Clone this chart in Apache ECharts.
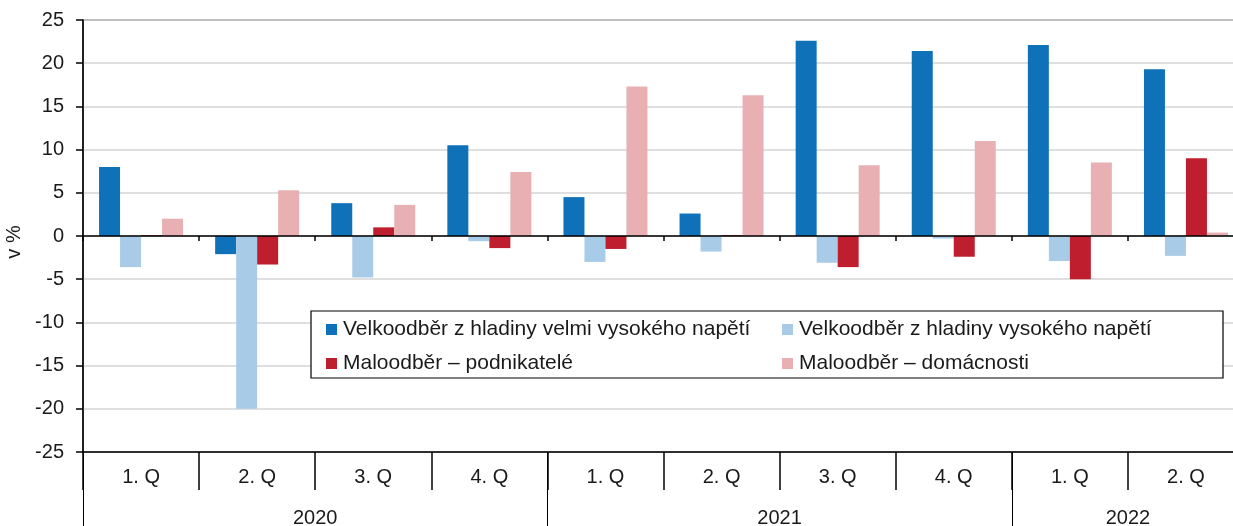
<!DOCTYPE html>
<html>
<head>
<meta charset="utf-8">
<script src="https://cdn.jsdelivr.net/npm/echarts@6/dist/echarts.min.js"></script>
<style>
  html, body { margin: 0; padding: 0; background: #fff; }
  #chart { width: 1233px; height: 526px; }
</style>
</head>
<body>
<div id="chart"></div>
<script>
// data
const quarters = ['1. Q', '2. Q', '3. Q', '4. Q', '1. Q', '2. Q', '3. Q', '4. Q', '1. Q', '2. Q']
const years = ['2020', '2021', '2022']
const quartersPerYear = [4, 4, 2]

const velmiVysoke = [8.0, -2.1, 3.8, 10.5, 4.5, 2.6, 22.6, 21.4, 22.1, 19.3]
const vysoke = [-3.6, -20.0, -4.8, -0.6, -3.0, -1.8, -3.1, -0.3, -2.9, -2.3]
const podnikatele = [0.1, -3.3, 1.0, -1.4, -1.5, 0.1, -3.6, -2.4, -5.0, 9.0]
const domacnosti = [2.0, 5.3, 3.6, 7.4, 17.3, 16.3, 8.2, 11.0, 8.5, 0.4]

const seriesNames = [
  'Velkoodběr z hladiny velmi vysokého napětí',
  'Velkoodběr z hladiny vysokého napětí',
  'Maloodběr – podnikatelé',
  'Maloodběr – domácnosti'
]
const colors = ['#0f71b8', '#a8cce7', '#be1e2d', '#e8b0b3']

// year axis: half-quarter slots so the year label sits in the middle of its group
const yearSlots = []
const yearBounds = [0]
let pos = 0
years.forEach((y, i) => {
  const n = quartersPerYear[i] * 2
  for (let k = 0; k < n; k++) {
    yearSlots.push(k === n / 2 ? y : '')
  }
  pos += n
  yearBounds.push(pos)
})
yearSlots.push('')

const font = 'Liberation Sans, Arial, sans-serif'
const textColor = '#1a1a1a'

const chart = echarts.init(document.getElementById('chart'))

const makeBar = (name, data, color) => ({
  name: name,
  type: 'bar',
  data: data,
  xAxisIndex: 0,
  barWidth: 21,
  barGap: '0%',
  itemStyle: { color: color },
  emphasis: { disabled: true }
})

const legendText = { fontSize: 21, color: textColor, fontFamily: font, lineHeight: 20, padding: [0, 0, 0, 1] }

chart.setOption({
  animation: false,
  textStyle: { fontFamily: font },
  grid: {
    left: 83,
    top: 20,
    width: 1161,
    height: 432,
    containLabel: false,
    outerBoundsMode: 'none',
    show: true,
    borderColor: '#000',
    borderWidth: 1,
    backgroundColor: 'transparent'
  },
  legend: [
    {
      data: [seriesNames[0], seriesNames[2]],
      orient: 'vertical',
      left: 321,
      top: 314,
      itemWidth: 11,
      itemHeight: 11,
      itemGap: 13,
      icon: 'rect',
      selectedMode: false,
      z: 10,
      textStyle: legendText
    },
    {
      data: [seriesNames[1], seriesNames[3]],
      orient: 'vertical',
      left: 777,
      top: 314,
      itemWidth: 11,
      itemHeight: 11,
      itemGap: 13,
      icon: 'rect',
      selectedMode: false,
      z: 10,
      textStyle: legendText
    }
  ],
  graphic: [
    {
      type: 'rect',
      z: 5,
      shape: { x: 311, y: 311, width: 912, height: 67 },
      style: { fill: '#fff', stroke: '#000', lineWidth: 1.2 }
    }
  ],
  xAxis: [
    {
      // zero line with group ticks
      type: 'category',
      data: quarters,
      position: 'bottom',
      z: 3,
      axisLine: { onZero: true, lineStyle: { color: '#000', width: 1.5 } },
      axisTick: { show: true, length: 5, lineStyle: { color: '#000', width: 1.5 } },
      axisLabel: { show: false },
      splitLine: { show: false }
    },
    {
      // quarter labels
      type: 'category',
      data: quarters,
      position: 'bottom',
      axisLine: { onZero: false, lineStyle: { color: '#000', width: 1.5 } },
      axisTick: { show: true, length: 38, lineStyle: { color: '#000', width: 1.5 } },
      axisLabel: { fontSize: 20, color: textColor, margin: 15, fontFamily: font },
      splitLine: { show: false }
    },
    {
      // year labels
      type: 'category',
      data: yearSlots,
      boundaryGap: false,
      position: 'bottom',
      axisLine: { show: false, onZero: false },
      axisTick: {
        show: true,
        length: 80,
        interval: (i) => yearBounds.includes(i),
        lineStyle: { color: '#000', width: 1 }
      },
      axisLabel: {
        fontSize: 20,
        color: textColor,
        margin: 56,
        fontFamily: font,
        interval: (i, v) => v !== ''
      },
      splitLine: { show: false }
    }
  ],
  yAxis: {
    type: 'value',
    min: -25,
    max: 25,
    interval: 5,
    name: 'v %',
    nameLocation: 'middle',
    nameGap: 51,
    nameRotate: 90,
    nameTextStyle: { fontSize: 20, color: textColor, fontFamily: font, padding: [0, 12, 0, 0] },
    axisLine: { show: true, lineStyle: { color: '#000', width: 1.5 } },
    axisTick: { show: true, length: 7, lineStyle: { color: '#000', width: 1.5 } },
    axisLabel: { fontSize: 20, color: textColor, margin: 19, fontFamily: font },
    splitLine: { lineStyle: { color: '#d4d4d4', width: 1.5 } }
  },
  series: [
    makeBar(seriesNames[0], velmiVysoke, colors[0]),
    makeBar(seriesNames[1], vysoke, colors[1]),
    makeBar(seriesNames[2], podnikatele, colors[2]),
    makeBar(seriesNames[3], domacnosti, colors[3])
  ]
})
</script>
</body>
</html>
